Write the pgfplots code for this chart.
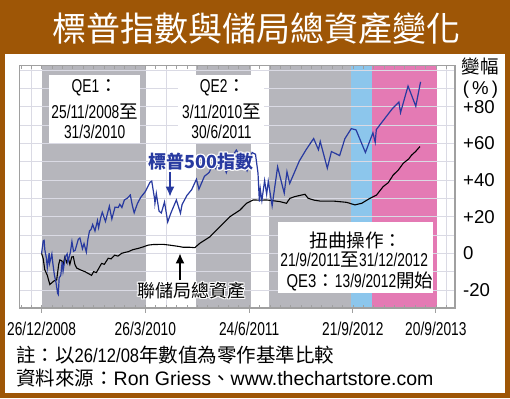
\documentclass[border=0pt]{standalone}
\usepackage{fontspec}
\setmainfont{Liberation Sans}
\newfontfamily\cjk{Noto Sans CJK TC}
\usepackage{graphicx}
\usepackage{pgfplots}
\pgfplotsset{compat=1.18}
\usetikzlibrary{arrows.meta}

\definecolor{brownbg}{RGB}{158,86,6}
\definecolor{grayfill}{RGB}{182,182,188}
\definecolor{lblue}{RGB}{140,198,236}
\definecolor{pinkfill}{RGB}{228,122,180}
\definecolor{blueline}{RGB}{40,58,160}
\definecolor{gridc}{RGB}{218,218,228}
\definecolor{framec}{RGB}{160,160,160}

\newcommand\cond[1]{\scalebox{0.74}[1]{#1}}
\newcommand\fs[1]{\fontsize{#1}{#1}\selectfont}

\begin{document}
\begin{tikzpicture}[x=1pt,y=1pt]
\fill[brownbg] (0,0) rectangle (510,398);
\fill[white] (5,5) rectangle (505,344);
\node[white, font=\cjk\fs{34}] at (256.7,369.7) {標普指數與儲局總資產變化};

\begin{axis}[
  at={(19.5pt,90pt)}, anchor=south west,
  scale only axis, width=435.5pt, height=242.3pt,
  xmin=-97, xmax=1813, ymin=-29.8, ymax=102.3,
  axis on top,
  axis line style={draw=framec, line width=1.6pt},
  xtick={0,455,910,1365,1729},
  xticklabels={\cond{26/12/2008},\cond{26/3/2010},\cond{24/6/2011},\cond{21/9/2012},\cond{20/9/2013}},
  xticklabel style={anchor=base, inner sep=0pt, yshift=-27.5pt, font=\fs{18.6}},
  minor xtick={-91,-45.5,...,1774.5},
  major tick length=0pt, minor tick length=3pt, tick align=inside,
  minor tick style={draw=framec, line width=0.6pt},
  ytick={-20,0,20,40,60,80},
  yticklabels={-20,0,+20,+40,+60,+80},
  yticklabel pos=right,
  yticklabel style={anchor=west, inner sep=0pt, xshift=8pt, font=\fs{18.6}},
  ytick style={draw=none},
  clip=false,
]
% vertical grid lines (under the shading)
\draw[gridc, line width=0.8pt] (axis cs:-44,-29.8) -- (axis cs:-44,102.3);
\draw[gridc, line width=0.8pt] (axis cs:548,-29.8) -- (axis cs:548,102.3);
\draw[gridc, line width=0.8pt] (axis cs:1776,-29.8) -- (axis cs:1776,102.3);
% shaded periods
\addplot[fill=grayfill, draw=none] coordinates {(0,-29.8) (0,102.3) (457,102.3) (457,-29.8)} -- cycle;
\addplot[fill=grayfill, draw=none] coordinates {(677,-29.8) (677,102.3) (918,102.3) (918,-29.8)} -- cycle;
\addplot[fill=grayfill, draw=none] coordinates {(997,-29.8) (997,102.3) (1357,102.3) (1357,-29.8)} -- cycle;
\addplot[fill=lblue, draw=none] coordinates {(1357,-29.8) (1357,102.3) (1449,102.3) (1449,-29.8)} -- cycle;
\addplot[fill=pinkfill, draw=none] coordinates {(1449,-29.8) (1449,102.3) (1734,102.3) (1734,-29.8)} -- cycle;
% horizontal grid lines
\pgfplotsinvokeforeach{-20,-10,0,10,20,30,40,50,60,70,80,90,100}{
  \draw[gridc, line width=0.8pt] (axis cs:-97,#1) -- (axis cs:1813,#1);
}
% Fed total assets
\addplot[black, line width=1.1pt] coordinates {
(0,0) (7,-3) (14,-9) (25,-12) (36,-17) (45,-16) (55,-15) (66,-14.5) (75,-6)
(80,-3.6) (88,-4) (95,-6) (102,-2) (110,-5) (117,-2.7) (124,-6) (132,-2)
(139,-1.8) (146,-6) (154,-8) (170,-9) (190,-10) (205,-11) (219,-12) (228,-10)
(240,-10.5) (263,-5.5) (275,-6) (292,-2.7) (305,-3) (320,-1) (335,-1.5)
(351,0) (365,0.5) (380,0.9) (400,2) (424,2.7) (445,3.5) (468,4.5) (490,4.8)
(533,4.9) (560,4.5) (577,4.2) (600,3.8) (621,3.3) (650,3.3) (672,3.1)
(694,5.5) (738,9) (782,14.5) (826,20) (870,23.6) (899,27.3) (928,29.1)
(960,29) (987,29.1) (1020,28.6) (1045,28.2) (1074,27.3) (1089,30) (1110,30.9)
(1130,31.5) (1155,32.2) (1169,30) (1195,29) (1221,28.5) (1279,28.5)
(1338,27.8) (1374,26.4) (1404,27.3) (1440,30) (1469,31.8) (1498,36.4)
(1520,38.5) (1542,42.7) (1565,45.5) (1586,49.1) (1610,51.5) (1623,53.6)
(1640,55.5) (1659,58.2)
};
% S&P 500
\addplot[blueline, line width=1.2pt] coordinates {
(0,0) (7,6.8) (11,7.1) (14,2.0) (21,-2.6) (25,-7.8) (28,-4.7) (33,0.1)
(35,-5.4) (45,-0.3) (49,-5.2) (56,-11.8) (63,-15.8) (70,-21.7) (73,-22.4)
(77,-13.4) (84,-12) (90,-4.7) (94,-9.8) (104,-1.9) (112,-0.3) (115,-4.7)
(126,0.5) (133,6.4) (140,1.1) (147,1.6) (161,7.7) (168,8.4) (179,2.5)
(186,5.3) (196,0.7) (203,7.7) (210,12.2) (217,13.1) (224,15.7) (234,12.2)
(245,17.9) (250,14) (259,19.4) (266,22.4) (280,17.4) (297,25.7) (308,18.7)
(322,25.2) (336,25) (343,26.7) (352,25) (363,29.1) (375,30) (389,31.8)
(398,26) (406,22.1) (420,27.1) (434,30.4) (455,33.7) (475,38.7) (483,39.4)
(496,29.2) (497,27.3) (503,32.6) (515,23) (525,22) (539,28) (553,17.1)
(567,22) (591,29.1) (609,21.9) (616,26.6) (637,31.5) (658,34.7) (679,40.4)
(690,35) (714,42) (735,44.1) (749,48.1) (763,46.2) (784,53.9) (810,44)
(833,52.2) (854,56.3) (878,50.9) (901,45) (923,55) (938,54) (949,43.7)
(955,28.2) (959,35.1) (966,28.8) (978,39.7) (987,32.2) (994,39.3)
(1011,25.9) (1035,47.2) (1064,32.8) (1076,44.5) (1088,38.1) (1130,50.3)
(1160,56.5) (1193,62.6) (1214,56.5) (1222,61) (1253,46.4) (1271,55.5)
(1307,53.3) (1330,62.5) (1358,68) (1379,67.3) (1420,55) (1453,65.7)
(1463,60.6) (1468,67.5) (1516,75.3) (1539,79) (1567,82.5) (1574,76.7)
(1607,91.2) (1641,80.2) (1662,93.5)
};
% major ticks, outward at the bottom
\pgfplotsinvokeforeach{0,455,910,1365,1729}{
  \draw[framec, line width=1pt] (axis cs:#1,-29.8) -- ([yshift=-5pt]axis cs:#1,-29.8);
}
\end{axis}

% y axis title
\node[font=\cjk\fs{18.5}] at (480,331.5) {變幅};
\node[font=\fs{18.6}] at (480.5,308) {(\,\%\,)};

% QE1 box
\fill[white] (49.3,254.7) rectangle (140,323);
\node[font=\fs{18.6}] at (94.7,310) {\cond{QE1}{\cjk ：}};
\node[font=\fs{18.6}] at (94.7,286.3) {\cond{25/11/2008}{\cjk 至}};
\node[font=\fs{18.6}] at (94.7,266.3) {\cond{31/3/2010}};

% QE2 box
\fill[white] (178,254.7) rectangle (264,323);
\node[font=\fs{18.6}] at (223,310) {\cond{QE2}{\cjk ：}};
\node[font=\fs{18.6}] at (221.5,286.3) {\cond{3/11/2010}{\cjk 至}};
\node[font=\fs{18.6}] at (221.5,266.3) {\cond{30/6/2011}};

% Twist box
\fill[white] (277.7,105) rectangle (432.7,176.3);
\node[font=\cjk\fs{18.6}] at (356,158) {扭曲操作：};
\node[font=\fs{18.6}] at (354.2,138) {\cond{21/9/2011}{\cjk 至}\cond{31/12/2012}};
\node[font=\fs{18.6}] at (360,116.3) {\scalebox{0.8}[1]{QE3}{\cjk ：}\cond{13/9/2012}{\cjk 開始}};

% S&P label with halo
\foreach \dx/\dy in {1.3/0,-1.3/0,0/1.3,0/-1.3,0.9/0.9,-0.9/0.9,0.9/-0.9,-0.9/-0.9}{
  \node[white, font=\cjk\bfseries\fs{18}, xshift=\dx pt, yshift=\dy pt] at (201,236.3) {標普500指數};
}
\node[blueline, font=\cjk\bfseries\fs{18}] at (201,236.3) {標普500指數};
\draw[blueline, line width=1.8pt, -{Latex[length=10pt,width=9pt]}] (170,226) -- (170,201.3);

% Fed label with halo
\foreach \dx/\dy in {1.3/0,-1.3/0,0/1.3,0/-1.3,0.9/0.9,-0.9/0.9,0.9/-0.9,-0.9/-0.9}{
  \node[white, font=\cjk\fs{18}, xshift=\dx pt, yshift=\dy pt] at (191.6,107.2) {聯儲局總資產};
}
\node[black, font=\cjk\fs{18}] at (191.6,107.2) {聯儲局總資產};
\draw[black, line width=1.8pt, -{Latex[length=10pt,width=9pt]}] (180,118) -- (180,144.7);

% footnotes
\node[anchor=west, inner sep=0pt, font=\fs{19.5}] at (16,43) {{\cjk 註：以}\scalebox{0.85}[1]{26/12/08}{\cjk 年數值為零作基準比較}};
\node[anchor=west, inner sep=0pt, font=\fs{19.5}] at (16,20) {{\cjk 資料來源：}Ron Griess{\cjk 、}www.thechartstore.com};
\end{tikzpicture}
\end{document}
